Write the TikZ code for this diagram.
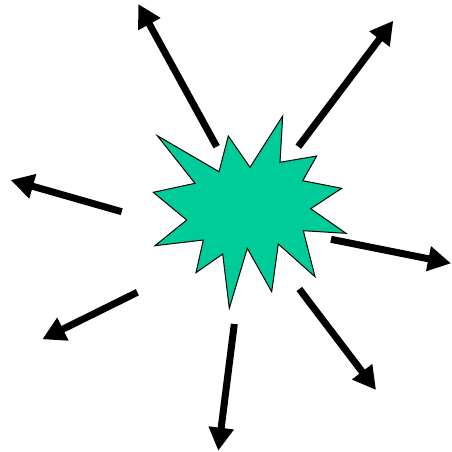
\documentclass[tikz,border=0pt]{standalone}
\usetikzlibrary{arrows.meta}
\definecolor{burst}{RGB}{0,204,153}
\begin{document}
\begin{tikzpicture}[x=1pt,y=-1pt,
  ray/.style={line width=7pt,-{Triangle[length=23pt,width=24pt]}},
  burstshape/.style={fill=burst,draw=black,line width=1pt,line join=miter}]
\useasboundingbox (0,0) rectangle (451,452);
\draw[burstshape] (157.3,135.7) -- (219,171.7) -- (228.3,136) -- (250,167.3) -- (282.7,116) -- (280,162.3) -- (316.7,156) -- (302.7,180.7) -- (341.7,188.3) -- (310.7,208.7) -- (346,233.3) -- (303.3,230.7) -- (315,276.7) -- (278.3,244) -- (271.7,291.7) -- (247.3,248.3) -- (229.3,308.3) -- (222.7,254) -- (196,272.7) -- (203.3,240) -- (155,245.7) -- (186.7,220) -- (153.3,192.3) -- (195,183.3) -- cycle;
\coordinate (s1) at (216.7,146.7); \coordinate (t1) at (138.3,4);
\coordinate (s2) at (298.3,146.7); \coordinate (t2) at (393.3,20.7);
\coordinate (s3) at (121.7,211.7); \coordinate (t3) at (10.7,180);
\coordinate (s4) at (331,239.3);   \coordinate (t4) at (451,263.3);
\coordinate (s5) at (137.3,292.3); \coordinate (t5) at (42.3,339.3);
\coordinate (s6) at (234.3,324);   \coordinate (t6) at (218.3,450.7);
\coordinate (s7) at (299.3,289);   \coordinate (t7) at (376,390);
\foreach \i in {1,...,7} {\draw[ray] (s\i) -- (t\i);}
\end{tikzpicture}
\end{document}
